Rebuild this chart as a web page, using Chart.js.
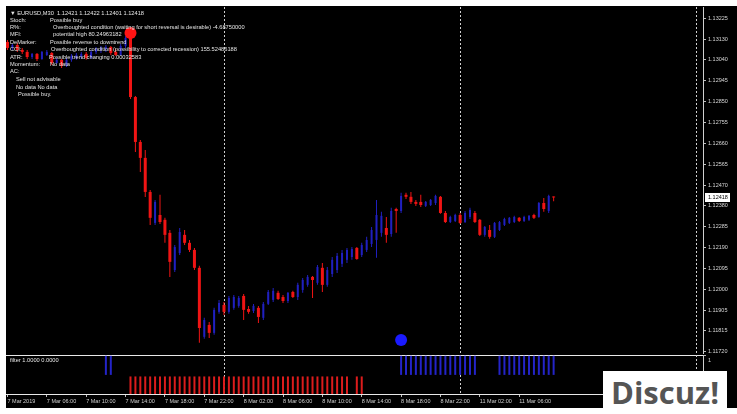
<!DOCTYPE html>
<html>
<head>
<meta charset="utf-8">
<title>EURUSD M30</title>
<script src="https://cdn.jsdelivr.net/npm/chart.js@4.4.1/dist/chart.umd.min.js"></script>
<style>
  html, body { margin: 0; padding: 0; width: 737px; height: 414px; overflow: hidden; background: #fff; }
  #frame { position: absolute; left: 6px; top: 6px; width: 731px; height: 402px; background: #000; }
  #priceChart { position: absolute; left: 0; top: 0; }
  #filterChart { position: absolute; left: 0; top: 354px; }
  #brand { position: absolute; left: 603px; top: 371px; width: 124px; height: 43px; background: #fff;
           font: bold 31px "Open Sans", sans-serif; color: #555; text-align: center; line-height: 43px; }
</style>
</head>
<body>
<div id="frame"></div>
<canvas id="priceChart" width="737" height="368"></canvas>
<canvas id="filterChart" width="737" height="54"></canvas>
<div id="brand">Discuz!</div>
<script>
// EURUSD M30, bar 0 = 7 Mar 2019 02:00, bar 111 = 11 Mar 09:30
const opens = [
  1.13121, 1.13094, 1.13107, 1.13085, 1.13076, 1.13053, 1.13067, 1.13044, 1.13062, 1.13071,
  1.13026, 1.13040, 1.13013, 1.13040, 1.13049, 1.13053, 1.13067, 1.13049, 1.13076, 1.13085,
  1.13089, 1.13098, 1.13076, 1.13062, 1.13103, 1.13139, 1.12872, 1.12669, 1.12597, 1.12443,
  1.12303, 1.12339, 1.12317, 1.12258, 1.12090, 1.12167, 1.12249, 1.12213, 1.12181, 1.12100,
  1.11788, 1.11842, 1.11806, 1.11901, 1.11932, 1.11901, 1.11919, 1.11928, 1.11973, 1.11914,
  1.11905, 1.11919, 1.11874, 1.11937, 1.11955, 1.11987, 1.11968, 1.11950, 1.11991, 1.11968,
  1.12000, 1.12023, 1.12059, 1.12032, 1.12100, 1.12023, 1.12072, 1.12090, 1.12118, 1.12136,
  1.12149, 1.12190, 1.12158, 1.12181, 1.12208, 1.12226, 1.12258, 1.12280, 1.12253, 1.12366,
  1.12357, 1.12430, 1.12421, 1.12398, 1.12398, 1.12380, 1.12384, 1.12393, 1.12421, 1.12348,
  1.12307, 1.12312, 1.12339, 1.12307, 1.12330, 1.12348, 1.12317, 1.12249, 1.12271, 1.12240,
  1.12271, 1.12294, 1.12303, 1.12307, 1.12326, 1.12312, 1.12317, 1.12339, 1.12330, 1.12393,
  1.12357, 1.12421
];
const highs = [
  1.13130, 1.13112, 1.13117, 1.13094, 1.13085, 1.13071, 1.13071, 1.13080, 1.13085, 1.13076,
  1.13049, 1.13044, 1.13049, 1.13067, 1.13071, 1.13076, 1.13076, 1.13085, 1.13098, 1.13103,
  1.13107, 1.13103, 1.13089, 1.13112, 1.13148, 1.13153, 1.12877, 1.12678, 1.12633, 1.12452,
  1.12407, 1.12430, 1.12326, 1.12271, 1.12203, 1.12280, 1.12271, 1.12226, 1.12190, 1.12109,
  1.11874, 1.11855, 1.11919, 1.11955, 1.11946, 1.11973, 1.11977, 1.11973, 1.11982, 1.11928,
  1.11937, 1.11928, 1.11946, 1.12000, 1.12009, 1.11996, 1.11977, 1.11991, 1.11996, 1.12032,
  1.12054, 1.12068, 1.12063, 1.12113, 1.12122, 1.12104, 1.12149, 1.12167, 1.12181, 1.12190,
  1.12194, 1.12194, 1.12213, 1.12240, 1.12285, 1.12407, 1.12353, 1.12330, 1.12371, 1.12371,
  1.12439, 1.12439, 1.12443, 1.12407, 1.12430, 1.12402, 1.12411, 1.12430, 1.12425, 1.12357,
  1.12335, 1.12344, 1.12348, 1.12357, 1.12371, 1.12357, 1.12321, 1.12289, 1.12294, 1.12307,
  1.12312, 1.12326, 1.12330, 1.12335, 1.12330, 1.12335, 1.12339, 1.12344, 1.12398, 1.12416,
  1.12430, 1.12422
];
const lows = [
  1.13085, 1.13085, 1.13076, 1.13067, 1.13044, 1.13044, 1.13035, 1.13040, 1.13058, 1.13017,
  1.13022, 1.13003, 1.13008, 1.13031, 1.13040, 1.13044, 1.13040, 1.13044, 1.13067, 1.13071,
  1.13076, 1.13062, 1.13058, 1.13058, 1.13094, 1.12863, 1.12624, 1.12533, 1.12420, 1.12294,
  1.12294, 1.12298, 1.12213, 1.12059, 1.12081, 1.12158, 1.12203, 1.12172, 1.12090, 1.11761,
  1.11779, 1.11783, 1.11797, 1.11892, 1.11887, 1.11892, 1.11910, 1.11919, 1.11864, 1.11892,
  1.11896, 1.11851, 1.11864, 1.11932, 1.11946, 1.11955, 1.11941, 1.11941, 1.11964, 1.11955,
  1.11987, 1.12014, 1.11964, 1.12023, 1.11991, 1.12014, 1.12059, 1.12077, 1.12104, 1.12122,
  1.12136, 1.12136, 1.12149, 1.12172, 1.12194, 1.12145, 1.12240, 1.12213, 1.12240, 1.12258,
  1.12348, 1.12411, 1.12389, 1.12380, 1.12375, 1.12375, 1.12380, 1.12384, 1.12344, 1.12303,
  1.12303, 1.12307, 1.12298, 1.12303, 1.12321, 1.12303, 1.12244, 1.12240, 1.12231, 1.12235,
  1.12267, 1.12289, 1.12298, 1.12303, 1.12307, 1.12307, 1.12312, 1.12321, 1.12326, 1.12353,
  1.12348, 1.12401
];
const closes = [
  1.13094, 1.13107, 1.13085, 1.13076, 1.13053, 1.13067, 1.13044, 1.13076, 1.13076, 1.13026,
  1.13040, 1.13013, 1.13040, 1.13058, 1.13062, 1.13067, 1.13049, 1.13076, 1.13089, 1.13094,
  1.13098, 1.13071, 1.13062, 1.13103, 1.13139, 1.12872, 1.12669, 1.12597, 1.12443, 1.12326,
  1.12398, 1.12307, 1.12249, 1.12127, 1.12194, 1.12262, 1.12213, 1.12181, 1.12100, 1.11828,
  1.11864, 1.11806, 1.11910, 1.11941, 1.11901, 1.11964, 1.11968, 1.11964, 1.11910, 1.11901,
  1.11928, 1.11878, 1.11937, 1.11991, 1.11996, 1.11959, 1.11950, 1.11987, 1.11968, 1.12023,
  1.12045, 1.12059, 1.12045, 1.12104, 1.12023, 1.12090, 1.12136, 1.12154, 1.12167, 1.12181,
  1.12185, 1.12140, 1.12203, 1.12226, 1.12271, 1.12339, 1.12335, 1.12249, 1.12357, 1.12357,
  1.12425, 1.12421, 1.12398, 1.12389, 1.12384, 1.12398, 1.12407, 1.12425, 1.12348, 1.12307,
  1.12330, 1.12339, 1.12303, 1.12348, 1.12362, 1.12307, 1.12249, 1.12285, 1.12240, 1.12303,
  1.12307, 1.12321, 1.12326, 1.12330, 1.12312, 1.12330, 1.12335, 1.12326, 1.12393, 1.12366,
  1.12425, 1.12418
];

// time axis: one label every 8 bars
const timeTickBars = [0, 8, 16, 24, 32, 40, 48, 56, 64, 72, 80, 88, 96, 104];
const timeTickLabels = ['7 Mar 2019', '7 Mar 06:00', '7 Mar 10:00', '7 Mar 14:00', '7 Mar 18:00',
  '7 Mar 22:00', '8 Mar 02:00', '8 Mar 06:00', '8 Mar 10:00', '8 Mar 14:00', '8 Mar 18:00',
  '8 Mar 22:00', '11 Mar 02:00', '11 Mar 06:00'];

const priceTicks = [1.13225, 1.13130, 1.13040, 1.12945, 1.12850, 1.12755, 1.12660, 1.12565, 1.12470,
  1.12380, 1.12285, 1.12190, 1.12095, 1.12000, 1.11905, 1.11815, 1.11720];

// period separators (8 Mar, 11 Mar, 12 Mar 00:00)
const daySeparators = [44, 92, 140];

// signal dots: sell above bar 25, buy below bar 80
const signalBars = [25, 80];
const signalPrices = [1.13162, 1.11774];

// "filter" indicator, bars where each buffer is set
const filterBuyBars = [20, 21, 80, 81, 82, 83, 84, 85, 86, 87, 88, 89, 90, 91, 92, 93, 94, 95,
  100, 101, 102, 103, 104, 105, 106, 107, 108, 109, 110, 111];
const filterSellBars = [25, 26, 27, 28, 29, 30, 31, 32, 33, 34, 35, 36, 37, 38, 39, 40, 41, 42, 43, 44,
  45, 46, 47, 48, 49, 50, 51, 52, 53, 54, 55, 56, 57, 58, 59, 60, 61, 62, 63, 64, 65, 66, 67, 68, 69,
  71, 72];

const BULL = '#2020c0';
const BEAR = '#f01414';
const TEXT = '#e4e4e4';
const AXIS_FONT = { family: 'Liberation Sans', size: 5.5 };
const X_MIN = -0.3, X_MAX = 141.36;

const barIdx = opens.map((o, i) => i);
const isBull = i => closes[i] >= opens[i];

// dotted day separators in both panes
const separatorPlugin = {
  id: 'separators',
  beforeDatasetsDraw(chart) {
    const { ctx, chartArea, scales } = chart;
    ctx.save();
    ctx.strokeStyle = '#cfcfcf';
    ctx.lineWidth = 1;
    ctx.setLineDash([2, 2]);
    daySeparators.forEach(b => {
      const x = Math.round(scales.x.getPixelForValue(b)) + 0.5;
      ctx.beginPath();
      ctx.moveTo(x, chartArea.top);
      ctx.lineTo(x, chartArea.bottom);
      ctx.stroke();
    });
    ctx.restore();
  }
};

// indicator comments in the top-left corner + last price box
const infoPlugin = {
  id: 'info',
  afterDraw(chart) {
    const ctx = chart.ctx;
    const rows = [
      ['Stoch:', 'Possible buy', 50, 20],
      ['R%:', 'Overboughted condition (waiting for short reversal is desirable) -4.68750000', 53, 27],
      ['MFI:', 'potential high 80.24963182', 53, 34],
      ['DeMarker:', 'Possible reverse to downtrend', 50, 42],
      ['CCI:', 'Overboughted condition (possibility to corrected recession) 155.52486188', 51, 49],
      ['ATR:', 'Possible trend changing 0.00032583', 49, 57],
      ['Momentum:', 'No data', 50, 64],
      ['AC:', '', 50, 71]
    ];
    ctx.save();
    ctx.font = '5.7px "Liberation Sans"';
    ctx.fillStyle = TEXT;
    ctx.textBaseline = 'middle';
    ctx.fillText('\u25BC EURUSD,M30  1.12421 1.12422 1.12401 1.12418', 10, 13);
    rows.forEach(r => {
      ctx.fillText(r[0], 10, r[3]);
      ctx.fillText(r[1], r[2], r[3]);
    });
    ctx.fillText('Sell not advisable', 16, 79);
    ctx.fillText('No data No data', 16, 87);
    ctx.fillText('Possible buy.', 18, 94);

    const last = closes[closes.length - 1];
    const y = Math.round(chart.scales.y.getPixelForValue(last));
    ctx.fillStyle = '#fff';
    ctx.fillRect(705, y - 4, 25, 9);
    ctx.fillStyle = '#000';
    ctx.font = '5.5px "Liberation Sans"';
    ctx.fillText(last.toFixed(5), 708, y + 0.5);
    ctx.restore();
  }
};

const filterLabelPlugin = {
  id: 'filterLabel',
  afterDraw(chart) {
    const ctx = chart.ctx;
    ctx.save();
    ctx.font = '5.7px "Liberation Sans"';
    ctx.fillStyle = TEXT;
    ctx.textBaseline = 'middle';
    ctx.fillText('filter 1.0000 0.0000', 10, 6);
    ctx.restore();
  }
};

const barDefaults = { grouped: false, borderWidth: 0, inflateAmount: 0, minBarLength: 1 };

new Chart(document.getElementById('priceChart'), {
  type: 'bar',
  data: {
    datasets: [
      {
        type: 'line',
        data: signalBars.map((b, k) => ({ x: b, y: signalPrices[k] })),
        showLine: false,
        pointRadius: 6,
        pointHoverRadius: 6,
        pointBorderWidth: 0,
        pointBackgroundColor: ['#ff1414', '#1a1aff'],
        order: 0
      },
      Object.assign({
        data: barIdx.filter(i => !isBull(i)).map(i => ({ x: i, y: [opens[i], closes[i]] })),
        backgroundColor: BEAR,
        barThickness: 3,
        order: 1
      }, barDefaults),
      Object.assign({
        data: barIdx.filter(isBull).map(i => ({ x: i, y: [opens[i], closes[i]] })),
        backgroundColor: BULL,
        barThickness: 2,
        order: 1
      }, barDefaults),
      Object.assign({
        data: barIdx.map(i => ({ x: i, y: [lows[i], highs[i]] })),
        backgroundColor: barIdx.map(i => isBull(i) ? BULL : BEAR),
        barThickness: 1,
        order: 2
      }, barDefaults)
    ]
  },
  options: {
    responsive: false,
    animation: false,
    events: [],
    layout: { padding: { left: 6, top: 7, right: 0, bottom: 15 } },
    plugins: { legend: { display: false }, tooltip: { enabled: false } },
    scales: {
      x: { type: 'linear', min: X_MIN, max: X_MAX, offset: false, display: false },
      y: {
        type: 'linear',
        position: 'right',
        min: 1.11715,
        max: 1.13279,
        afterBuildTicks: a => { a.ticks = priceTicks.map(v => ({ value: v })); },
        afterFit: a => { a.width = 34; a.paddingTop = 0; a.paddingBottom = 0; },
        ticks: {
          autoSkip: false,
          padding: 2,
          color: '#d6d6d6',
          font: AXIS_FONT,
          callback: v => v.toFixed(5)
        },
        grid: { drawOnChartArea: false, drawTicks: true, tickLength: 3, tickColor: '#bdbdbd' },
        border: { display: true, color: '#cfcfcf', width: 1 }
      }
    }
  },
  plugins: [separatorPlugin, infoPlugin]
});

new Chart(document.getElementById('filterChart'), {
  type: 'bar',
  data: {
    datasets: [
      Object.assign({
        data: filterBuyBars.map(i => ({ x: i, y: [0.49, 0.98] })),
        backgroundColor: '#2424c8',
        barThickness: 2
      }, barDefaults),
      Object.assign({
        data: filterSellBars.map(i => ({ x: i, y: [0, 0.45] })),
        backgroundColor: '#dc1c1c',
        barThickness: 2
      }, barDefaults)
    ]
  },
  options: {
    responsive: false,
    animation: false,
    events: [],
    layout: { padding: { left: 6, top: 0, right: 0, bottom: 0 } },
    plugins: { legend: { display: false }, tooltip: { enabled: false } },
    scales: {
      x: {
        type: 'linear',
        position: 'bottom',
        min: X_MIN,
        max: X_MAX,
        offset: false,
        afterBuildTicks: a => { a.ticks = timeTickBars.map(v => ({ value: v })); },
        afterFit: a => { a.height = 14; a.paddingLeft = 0; a.paddingRight = 0; },
        ticks: {
          autoSkip: false,
          maxRotation: 0,
          align: 'start',
          padding: 1,
          color: '#d0d0d0',
          font: AXIS_FONT,
          callback: (v, k) => timeTickLabels[k]
        },
        grid: { drawOnChartArea: false, drawTicks: true, tickLength: 3, tickColor: '#bdbdbd', offset: false },
        border: { display: true, color: '#e8e8e8', width: 1 }
      },
      xTop: {
        type: 'linear',
        position: 'top',
        min: X_MIN,
        max: X_MAX,
        offset: false,
        ticks: { display: false },
        grid: { display: false, drawTicks: false },
        border: { display: true, color: '#e8e8e8', width: 1 },
        afterFit: a => { a.height = 1; a.paddingLeft = 0; a.paddingRight = 0; }
      },
      y: {
        position: 'right',
        min: 0,
        max: 1,
        afterBuildTicks: a => { a.ticks = [{ value: 1 }]; },
        afterFit: a => { a.width = 34; a.paddingTop = 0; a.paddingBottom = 0; },
        ticks: { labelOffset: 5, padding: 2, color: '#d0d0d0', font: AXIS_FONT, callback: () => '1' },
        grid: { drawOnChartArea: false, drawTicks: true, tickLength: 3, tickColor: '#bdbdbd' },
        border: { display: true, color: '#cfcfcf', width: 1 }
      }
    }
  },
  plugins: [separatorPlugin, filterLabelPlugin]
});
</script>
</body>
</html>
